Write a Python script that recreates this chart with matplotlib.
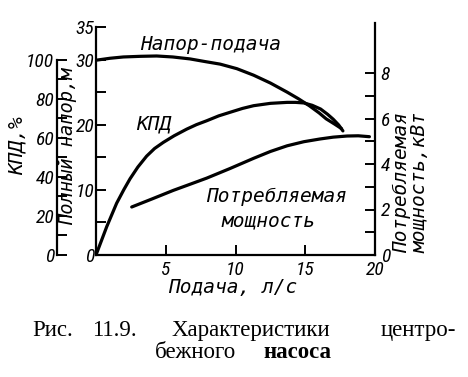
import matplotlib
matplotlib.use("Agg")
import matplotlib.pyplot as plt
from matplotlib import font_manager
from matplotlib.font_manager import FontProperties

# ---- data ----
head_q = [0.0, 1.0, 1.96, 3.2, 4.35, 5.5, 6.74, 7.8, 8.9, 10.1, 11.3, 12.5, 13.7, 14.5, 15.3, 16.0, 16.5, 17.1, 17.6]
head_h = [29.9, 30.2, 30.4, 30.5, 30.55, 30.4, 30.1, 29.7, 29.3, 28.6, 27.6, 26.4, 25.0, 24.0, 22.9, 21.8, 20.9, 20.1, 19.4]

eff_q = [0.0, 0.77, 1.48, 2.0, 2.44, 3.0, 3.63, 4.2, 4.82, 5.6, 6.5, 7.2, 7.94, 8.8, 9.6, 10.5, 11.3,
         12.5, 13.7, 14.3, 14.9, 15.5, 16.1, 16.6, 17.0, 17.4, 17.7]
eff_pct = [0.0, 14.5, 26.5, 33.5, 39.0, 45.0, 50.6, 54.5, 57.6, 61.0, 64.4, 66.7, 68.7, 71.2, 73.0, 75.0, 76.4,
           77.6, 78.1, 78.1, 77.8, 76.6, 74.7, 72.0, 69.5, 66.5, 63.5]

pow_q = [2.56, 4.0, 5.54, 6.7, 7.94, 9.6, 11.3, 12.5, 13.7, 14.9, 16.06, 17.0, 18.0, 18.8, 19.6]
pow_kw = [2.11, 2.46, 2.84, 3.1, 3.38, 3.8, 4.25, 4.55, 4.8, 4.98, 5.1, 5.18, 5.23, 5.24, 5.2]

x_ticks = [5, 10, 15, 20]
h_ticks = [0, 10, 20, 30, 35]
eff_ticks = [0, 20, 40, 60, 80, 100]
pow_ticks = [0, 2, 4, 6, 8]


def find(pred):
    for f in font_manager.fontManager.ttflist:
        try:
            if pred(f):
                return f.fname
        except Exception:
            pass
    return None


mono_path = (find(lambda f: 'DejaVuSansMono-Oblique.ttf' in f.fname)
             or find(lambda f: f.name == 'Liberation Mono' and f.style == 'italic' and f.weight in (400, 'normal')))
cond_path = (find(lambda f: f.name == 'Roboto Condensed' and f.style == 'italic' and f.weight in (400, 'normal'))
             or find(lambda f: 'DejaVuSansCondensed-Oblique' in f.fname)
             or find(lambda f: 'DejaVuSans-Oblique.ttf' in f.fname))


def tfont(size):
    if mono_path:
        return FontProperties(fname=mono_path, size=size)
    return FontProperties(family='DejaVu Sans Mono', style='oblique', size=size)


def nfont(size):
    if cond_path:
        return FontProperties(fname=cond_path, size=size)
    return FontProperties(family='DejaVu Sans', style='italic', size=size)


def serif(size, weight='normal'):
    return FontProperties(family=['Liberation Serif', 'DejaVu Serif'], size=size, weight=weight)


TS = 14    # tick label size
LS = 14    # label size

W, H = 468, 377
fig = plt.figure(figsize=(W / 100, H / 100), dpi=100)


def px(x, y):
    return x / W, 1 - y / H


L, R, B, T = 96, 375, 255, 27
ax = fig.add_axes([L / W, 1 - B / H, (R - L) / W, (B - T) / H])
ax.set_xlim(0, 20)
ax.set_ylim(0, 35)
for s in ['top', 'right']:
    ax.spines[s].set_visible(False)
for s in ['left', 'bottom']:
    ax.spines[s].set_linewidth(1.6)
ax.set_xticks(x_ticks)
ax.set_xticklabels([str(v) for v in x_ticks], fontproperties=nfont(TS))
ax.set_yticks(h_ticks)
ax.set_yticklabels([str(v) for v in h_ticks], fontproperties=nfont(TS))
ax.set_yticks([5, 15, 25], minor=True)
ax.tick_params(axis='both', which='both', direction='in', length=7, width=1.4, pad=1)
ax.tick_params(axis='x', pad=4)

ax.plot(head_q, head_h, color='black', lw=2.3, solid_capstyle='round', solid_joinstyle='round')
# efficiency drawn against the head scale (100 % = 30 m)
ax.plot(eff_q, [v * 30 / 100 for v in eff_pct], color='black', lw=2.3,
        solid_capstyle='round', solid_joinstyle='round')

# power axis (right)
kw_per_px = 8 / (255 - 73)
axp = ax.twinx()
axp.set_ylim(0, (B - T) * kw_per_px)
for s in ['top', 'left', 'bottom']:
    axp.spines[s].set_visible(False)
axp.spines['right'].set_linewidth(1.6)
axp.spines['right'].set_bounds(0, (B - 23) * kw_per_px)
axp.set_yticks(pow_ticks)
axp.set_yticklabels([str(v) for v in pow_ticks], fontproperties=nfont(TS))
axp.set_yticks([1, 3, 5, 7], minor=True)
axp.tick_params(axis='y', which='both', direction='in', length=7, width=1.4, pad=4)
axp.plot(pow_q, pow_kw, color='black', lw=2.3, solid_capstyle='round', solid_joinstyle='round')

# efficiency axis (outer left)
axe = ax.twinx()
axe.set_ylim(0, 35 * 100 / 30)
for s in ['top', 'right', 'bottom']:
    axe.spines[s].set_visible(False)
axe.spines['left'].set_visible(True)
axe.spines['left'].set_position(('axes', (57 - L) / (R - L)))
axe.spines['left'].set_bounds(0, 100)
axe.spines['left'].set_linewidth(1.6)
axe.yaxis.set_ticks_position('left')
axe.set_yticks(eff_ticks)
axe.set_yticklabels([str(v) for v in eff_ticks], fontproperties=nfont(TS))
axe.set_yticks([10, 30, 50, 70, 90], minor=True)
axe.tick_params(axis='y', which='both', direction='in', length=7, width=1.4, pad=2)

# curve labels
fig.text(*px(211, 45), 'Напор-подача', fontproperties=tfont(LS), ha='center', va='center')
fig.text(*px(154, 124), 'КПД', fontproperties=tfont(LS), ha='center', va='center')
fig.text(*px(277, 197), 'Потребляемая', fontproperties=tfont(LS), ha='center', va='center')
fig.text(*px(268, 221), 'мощность', fontproperties=tfont(LS), ha='center', va='center')

# axis labels
fig.text(*px(17, 146), 'КПД,%', fontproperties=tfont(LS), rotation=90, ha='center', va='center')
fig.text(*px(67, 146), 'Полный напор,м', fontproperties=tfont(13.5), rotation=90, ha='center', va='center')
fig.text(*px(402, 253), 'Потребляемая', fontproperties=tfont(LS), rotation=90, ha='center', va='bottom')
fig.text(*px(420, 253), 'мощность,кВт', fontproperties=tfont(LS), rotation=90, ha='center', va='bottom')
fig.text(*px(233, 288), 'Подача, л/с', fontproperties=tfont(LS), ha='center', va='center')

# caption
cb = 336  # baseline of first line
CS = 16.5
fig.text(*px(32, cb), 'Рис.', fontproperties=serif(CS), ha='left', va='baseline')
fig.text(*px(92, cb), '11.9.', fontproperties=serif(CS), ha='left', va='baseline')
fig.text(*px(172, cb), 'Характеристики', fontproperties=serif(CS), ha='left', va='baseline')
fig.text(*px(456, cb), 'центро-', fontproperties=serif(CS), ha='right', va='baseline')
fig.text(*px(155, 358), 'бежного', fontproperties=serif(CS), ha='left', va='baseline')
fig.text(*px(331, 358), 'насоса', fontproperties=serif(CS, 'bold'), ha='right', va='baseline')

fig.savefig('out.png', dpi=100)
